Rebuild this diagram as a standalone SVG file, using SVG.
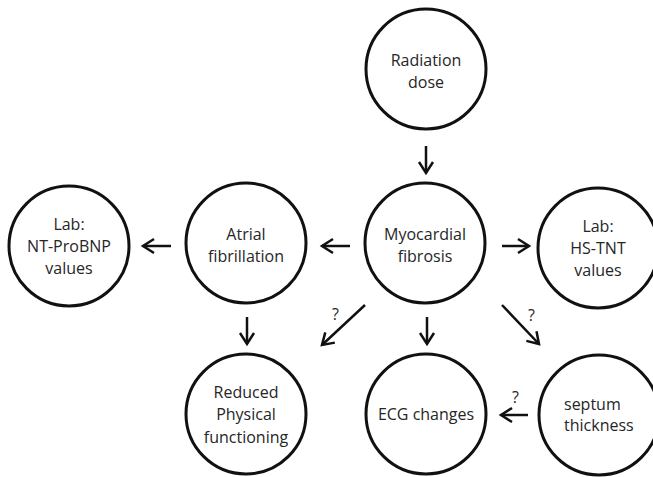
<svg xmlns="http://www.w3.org/2000/svg" width="653" height="477" viewBox="0 0 653 477">
<defs>
<style>
.node circle{fill:#fff;stroke:#111;stroke-width:3}
.node text, .lbl{font-family:"Open Sans","Noto Sans",sans-serif;font-size:16px;fill:#262626;text-anchor:middle}
.conn line{stroke:#111;stroke-width:2.5;marker-end:url(#ah)}
</style>
<marker id="ah" markerUnits="userSpaceOnUse" markerWidth="24" markerHeight="24" viewBox="-16 -12 24 24" refX="0" refY="0" orient="auto">
<path d="M-11,-7 L0,0 L-11,7" fill="none" stroke="#111" stroke-width="2.5"/>
</marker>
</defs>
<rect width="653" height="477" fill="#fff"/>
<g id="radiation-dose" class="node"><circle cx="426" cy="69" r="60"/><text x="426" y="66">Radiation</text><text x="426" y="88">dose</text></g>
<g id="myocardial-fibrosis" class="node"><circle cx="425" cy="243" r="60"/><text x="425" y="240">Myocardial</text><text x="425" y="262">fibrosis</text></g>
<g id="atrial-fibrillation" class="node"><circle cx="246" cy="243" r="60"/><text x="246" y="240">Atrial</text><text x="246" y="262">fibrillation</text></g>
<g id="nt-probnp" class="node"><circle cx="69" cy="246" r="60"/><text x="69" y="230">Lab:</text><text x="69" y="252">NT-ProBNP</text><text x="69" y="274">values</text></g>
<g id="hs-tnt" class="node"><circle cx="598" cy="248" r="60"/><text x="598" y="232">Lab:</text><text x="598" y="254">HS-TNT</text><text x="598" y="276">values</text></g>
<g id="reduced-physical" class="node"><circle cx="246" cy="414" r="60"/><text x="246" y="398">Reduced</text><text x="246" y="420">Physical</text><text x="246" y="443">functioning</text></g>
<g id="ecg-changes" class="node"><circle cx="426" cy="414" r="60"/><text x="426" y="420">ECG changes</text></g>
<g id="septum-thickness" class="node"><circle cx="599" cy="415" r="60"/><text x="564" y="410" style="text-anchor:start">septum</text><text x="564" y="431" style="text-anchor:start">thickness</text></g>
<g id="connectors" class="conn">
<line x1="426" y1="146" x2="426" y2="173"/>
<line x1="350" y1="246" x2="322" y2="246"/>
<line x1="171" y1="246" x2="143" y2="246"/>
<line x1="502" y1="246" x2="529" y2="246"/>
<line x1="247" y1="317" x2="247" y2="344"/>
<line x1="427" y1="317" x2="427" y2="344"/>
<line x1="365" y1="305" x2="322" y2="345"/>
<line x1="502" y1="305" x2="539" y2="344"/>
<line x1="528" y1="415" x2="501" y2="415"/>
<text class="lbl" x="335.5" y="320">?</text>
<text class="lbl" x="531.5" y="321">?</text>
<text class="lbl" x="515.5" y="403">?</text>
</g>
</svg>
